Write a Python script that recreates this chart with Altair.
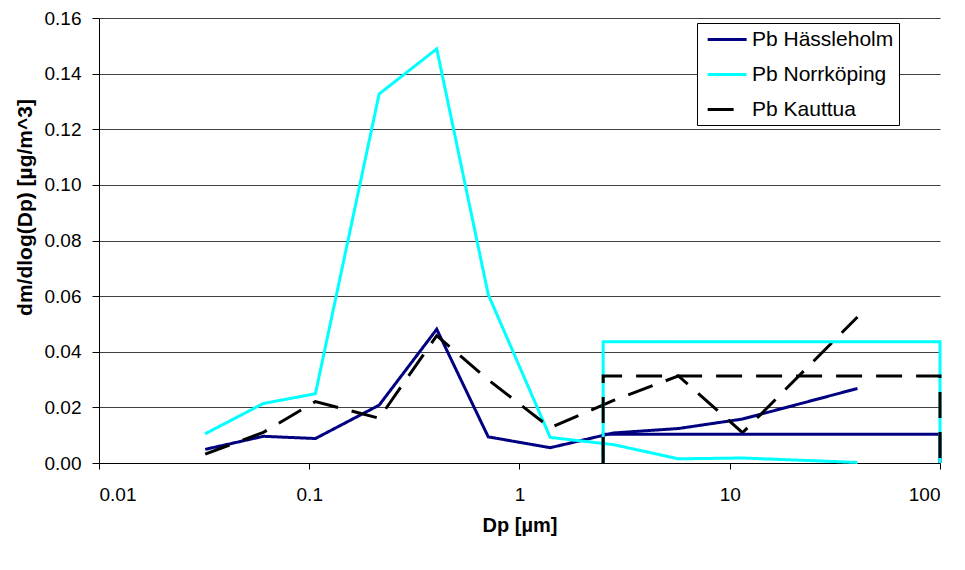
import altair as alt
import pandas as pd

dp = [0.032, 0.0605, 0.107, 0.215, 0.404, 0.71, 1.4, 2.8, 5.7, 11.5, 40.5]
hassleholm = [0.0049, 0.0096, 0.0088, 0.0208, 0.0481, 0.0094, 0.0055, 0.0108, 0.0124, 0.0158, 0.0268]
norrkoping = [0.0105, 0.0214, 0.0249, 0.1327, 0.1489, 0.0606, 0.0092, 0.0066, 0.0015, 0.0018, 0.0002]
kauttua = [0.0032, 0.0110, 0.0221, 0.0161, 0.0458, 0.0299, 0.0127, 0.0225, 0.0313, 0.0109, 0.0525]

series = ["Pb Hässleholm", "Pb Norrköping", "Pb Kauttua"]
colors = ["#000080", "#00FFFF", "#000000"]
dashes = [[1, 0], [1, 0], [26, 14]]

# filter samples covering 2.5 - 100 µm
box_x = [2.5, 2.5, 100, 100]
box_values = [0.0103, 0.0436, 0.0313]

x_ticks = [0.01, 0.1, 1, 10, 100]
y_ticks = [0, 0.02, 0.04, 0.06, 0.08, 0.10, 0.12, 0.14, 0.16]

rows = []
for name, vals in zip(series, [hassleholm, norrkoping, kauttua]):
    for i, (x, v) in enumerate(zip(dp, vals)):
        rows.append({"series": name, "kind": "dist", "idx": i, "dp": x, "val": v})
for name, bv in zip(series, box_values):
    for i, (x, v) in enumerate(zip(box_x, [0, bv, bv, 0])):
        rows.append({"series": name, "kind": "box", "idx": i, "dp": x, "val": v})
df = pd.DataFrame(rows)

FONT = "Liberation Sans"

legend_kw = dict(
    orient="none", legendX=598, legendY=5, title=None,
    strokeColor="black", fillColor="white", padding=5,
    symbolType="M-0.6,0H3.4", symbolSize=380, symbolStrokeWidth=3,
    labelFont=FONT, labelFontSize=21, labelColor="black",
    labelOffset=27, rowPadding=13, labelLimit=0,
)

chart = alt.Chart(df).mark_line(strokeWidth=3).encode(
    x=alt.X("dp:Q", scale=alt.Scale(type="log", domain=[0.01, 100]),
            axis=alt.Axis(values=x_ticks, format="~g", title="Dp [µm]", grid=False,
                          tickSize=6, labelPadding=16, titleY=52, titleBaseline="top",
                          titleFontSize=20)),
    y=alt.Y("val:Q", scale=alt.Scale(domain=[0, 0.16], nice=False, zero=True),
            axis=alt.Axis(values=y_ticks, format=".2f", title="dm/dlog(Dp) [µg/m^3]",
                          grid=True, tickSize=7, labelPadding=11,
                          titleX=-74, titleY=189, titleBaseline="middle",
                          titleFontSize=21)),
    color=alt.Color("series:N", scale=alt.Scale(domain=series, range=colors),
                    legend=alt.Legend(**legend_kw)),
    strokeDash=alt.StrokeDash("series:N", scale=alt.Scale(domain=series, range=dashes),
                              legend=alt.Legend(**legend_kw)),
    detail="kind:N",
    order="idx:Q",
).properties(
    width=841, height=445,
    autosize=alt.AutoSizeParams(type="none"),
    padding={"left": 91, "top": 10, "right": 17, "bottom": 99},
    background="white",
).configure_view(stroke=None).configure_axis(
    domainColor="black", tickColor="black", labelColor="black", titleColor="black",
    labelFont=FONT, labelFontSize=19, titleFont=FONT, titleFontWeight="bold",
    gridColor="#404040", gridOpacity=1, gridWidth=1, domainWidth=1, tickWidth=1,
)

chart.save("out.html", embed_options={"renderer": "svg", "actions": False})
